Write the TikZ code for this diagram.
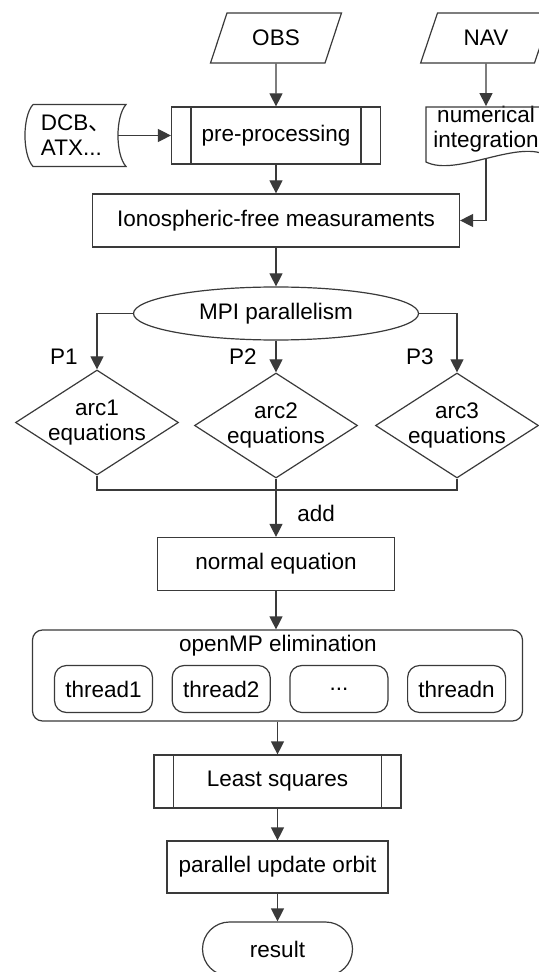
\documentclass[tikz,border=0pt]{standalone}
\usepackage{fontspec}
\setmainfont{Liberation Sans}
\newfontfamily\cjk{Noto Sans CJK SC}
\usetikzlibrary{arrows.meta,positioning,calc,shapes.geometric,shapes.misc}
\definecolor{ink}{HTML}{3A3A3A}

\begin{document}
\begin{tikzpicture}[x=0.5pt,y=-0.5pt, font=\fontsize{11.25}{12.5}\selectfont, node distance=9.25pt,
 box/.style={draw=ink,line width=0.6pt,align=center,inner sep=0pt},
 io/.style={box,trapezium,trapezium left angle=63.4,trapezium right angle=116.6,trapezium stretches=true,minimum width=65.5pt,minimum height=25pt},
 sub/.style={box,path picture={
   \draw[ink,line width=0.6pt] ([xshift=9.75pt]path picture bounding box.north west)--([xshift=9.75pt]path picture bounding box.south west);
   \draw[ink,line width=0.6pt] ([xshift=-9.75pt]path picture bounding box.north east)--([xshift=-9.75pt]path picture bounding box.south east);}},
 dec/.style={box,diamond,aspect=1.55,inner sep=-1.5pt,minimum width=81.5pt,minimum height=52.5pt},
 thr/.style={box,rounded corners=6pt,minimum width=49pt,minimum height=23.5pt},
 grp/.style={box,rounded corners=5pt,minimum width=245pt,minimum height=45.5pt},
 ln/.style={draw=ink,line width=0.6pt},
 arr/.style={-{Triangle[length=6.5pt,width=6.5pt]},draw=ink,line width=0.6pt}]
\path[fill=white,use as bounding box] (0,0) rectangle (538,972);
\node[io] (obs) at (276,38) {OBS};
\node[io] (nav) at (486,38) {NAV};
\node[box,sub,minimum width=104.5pt,minimum height=28.5pt] (pre) at (276,135.5) {pre-processing};
\node[align=left,inner sep=0pt] (dcb) at (76,135.5) {DCB{\cjk 、}\\ATX...};
\node[align=center,inner sep=0pt,minimum width=60pt,minimum height=22.5pt] (num) at (486,129.5) {numerical\\integration};
\node[box,minimum width=183.5pt,minimum height=26.5pt] (ion) at (276,220.5) {Ionospheric-free measuraments};
\node[box,ellipse,minimum width=142.5pt,minimum height=26.5pt] (mpi) at (276,313.5) {MPI parallelism};
\node[dec] (a1) at (97,422.5) {arc1\\equations};
\node[dec] (a2) at (276,425.5) {arc2\\equations};
\node[dec] (a3) at (457,425.5) {arc3\\equations};
\node[box,minimum width=118.5pt,minimum height=26.5pt] (neq) at (276,564) {normal equation};
\node[grp] (omp) at (277.5,675.5) {};
\node (ompt) at (278,646) {openMP elimination};
\node[thr] (t1) at (103.5,689) {thread1};
\node[thr,right=of t1] (t2) {thread2};
\node[thr,right=of t2] (t3) {...};
\node[thr,right=of t3] (tn) {threadn};
\node[box,sub,minimum width=123.5pt,minimum height=26.5pt] (ls) at (277.5,781.5) {Least squares};
\node[box,minimum width=110.5pt,minimum height=26pt] (upd) at (277.5,867) {parallel update orbit};
\node[box,rounded rectangle,minimum width=75pt,minimum height=27pt] (res) at (277.5,949) {result};
\draw[ln,shift={(dcb.center)}] (-43,-31) -- (50,-31) .. controls (39.3,-19) and (39.3,19) .. (50,31) -- (-43,31) .. controls (-53.7,19) and (-53.7,-19) .. (-43,-31);
\draw[ln,shift={(num.center)}] (-60,-22.5) -- (60,-22.5) -- (60,25.5) .. controls (30,10.5) and (-30,47.5) .. (-60,32.5) -- cycle;
\coordinate (dcbr) at ($(dcb.center)+(42,0)$);
\coordinate (numout) at ($(num.center)+(0,29)$);
\coordinate (join) at (276,490);
\draw[arr] (obs.south)--(pre.north); \draw[arr] (dcbr)--(pre.west); \draw[arr] (nav.south)--(num.north);
\draw[arr] (pre)--(ion); \draw[arr] (numout)|-(ion.east); \draw[arr] (ion)--(mpi);
\draw[arr] (mpi.west)-|node[pos=0.89,left=6pt]{P1}(a1.north);
\draw[arr] (mpi.south)--node[pos=0.5,left=6pt]{P2}(a2.north);
\draw[arr] (mpi.east)-|node[pos=0.87,left=8pt]{P3}(a3.north);
\draw[ln] (a1.south)|-(join); \draw[ln] (a3.south)|-(join); \draw[ln] (a2.south)--(join);
\draw[arr] (join)--node[right=7pt]{add}(neq.north);
\draw[arr] (neq.south)--(neq.south|-omp.north);
\draw[arr] (omp.south)--(ls.north); \draw[arr] (ls)--(upd); \draw[arr] (upd)--(res);
\end{tikzpicture}
\end{document}
